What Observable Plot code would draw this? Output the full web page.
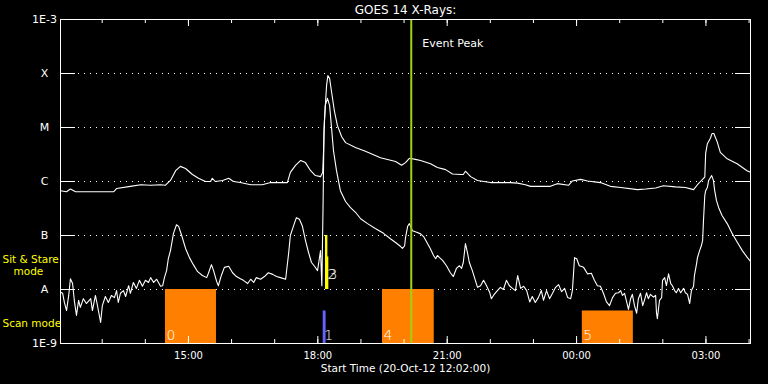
<!DOCTYPE html>
<html><head><meta charset="utf-8">
<script src="https://cdn.jsdelivr.net/npm/d3@7"></script>
<script src="https://cdn.jsdelivr.net/npm/@observablehq/plot@0.6"></script>
<style>html,body{margin:0;padding:0;background:#000;overflow:hidden} svg{display:block}</style>
</head><body><div id="chart"></div>
<script>
// ---- data ----
const startTime = new Date(Date.UTC(2012, 9, 20, 12, 2, 0));
const endTime = new Date(Date.UTC(2012, 9, 21, 4, 2, 0));
const chartTitle = "GOES 14 X-Rays:";
const xLabel = "Start Time (20-Oct-12 12:02:00)";
const eventPeakTime = "2012-10-20T20:10Z";
const eventPeakLabel = "Event Peak";

const yTickValues = [1e-9, 1e-8, 1e-7, 1e-6, 1e-5, 1e-4, 1e-3];
const yTickLabels = ["1E-9", "A", "B", "C", "M", "X", "1E-3"];
const gridLevels = [1e-8, 1e-7, 1e-6, 1e-5, 1e-4];
const majorTickTimes = ["2012-10-20T15:00Z", "2012-10-20T18:00Z", "2012-10-20T21:00Z", "2012-10-21T00:00Z", "2012-10-21T03:00Z"];
const majorTickLabels = ["15:00", "18:00", "21:00", "00:00", "03:00"];

// GOES long channel (1-8 A): hours after start, log10 flux (W/m^2)
const longHours = [0,0.14,0.23,0.35,1.23,1.30,1.62,1.86,2.09,2.32,2.43,2.55,2.67,2.78,2.90,3.06,3.20,3.36,3.48,3.52,3.59,3.76,3.90,4.01,4.17,4.41,4.68,4.87,5.26,5.33,5.45,5.57,5.68,5.80,5.91,6.03,6.08,6.10,6.12,6.17,6.20,6.24,6.28,6.35,6.42,6.52,6.61,6.84,7.07,7.42,7.77,7.91,8.00,8.09,8.23,8.35,8.58,8.74,8.93,9.09,9.28,9.34,9.39,9.51,9.67,9.97,10.43,10.60,10.78,10.90,11.36,11.52,11.78,11.87,12.06,12.22,12.52,12.75,12.99,13.38,13.57,13.80,13.98,14.26,14.49,14.68,14.77,14.84,14.91,14.94,14.96,15.00,15.07,15.11,15.15,15.23,15.30,15.46,15.69,15.92,16.00];
const longLogFlux = [-6.17,-6.19,-6.14,-6.19,-6.19,-6.13,-6.09,-6.06,-6.07,-6.06,-6.07,-5.98,-5.80,-5.72,-5.76,-5.87,-5.94,-6.00,-6.00,-5.94,-6.00,-5.98,-5.94,-6.00,-6.02,-6.06,-6.06,-6.02,-6.02,-5.83,-5.70,-5.61,-5.65,-5.80,-5.89,-5.91,-5.83,-5.43,-4.87,-4.22,-4.04,-4.09,-4.31,-4.69,-4.96,-5.17,-5.28,-5.37,-5.44,-5.56,-5.63,-5.70,-5.65,-5.57,-5.59,-5.61,-5.67,-5.74,-5.78,-5.86,-5.87,-5.87,-5.81,-5.91,-5.98,-6.02,-6.02,-6.03,-6.06,-6.09,-6.09,-6.04,-6.07,-5.99,-5.96,-5.99,-6.02,-6.09,-6.11,-6.15,-6.14,-6.12,-6.08,-6.10,-6.11,-6.15,-6.06,-6.00,-5.94,-5.92,-5.48,-5.30,-5.20,-5.11,-5.11,-5.27,-5.46,-5.58,-5.67,-5.80,-5.83];

// GOES short channel (0.5-4 A)
const shortHours = [0.00,0.05,0.09,0.14,0.19,0.23,0.28,0.32,0.37,0.42,0.46,0.53,0.60,0.70,0.74,0.81,0.86,0.93,0.97,1.04,1.11,1.18,1.25,1.30,1.34,1.39,1.46,1.51,1.58,1.62,1.69,1.76,1.83,1.90,1.97,2.04,2.09,2.16,2.23,2.32,2.37,2.41,2.46,2.50,2.55,2.62,2.69,2.74,2.81,2.90,2.99,3.08,3.18,3.29,3.39,3.43,3.50,3.55,3.62,3.66,3.73,3.80,3.90,3.99,4.08,4.17,4.24,4.34,4.41,4.48,4.54,4.64,4.73,4.82,4.92,5.01,5.10,5.22,5.29,5.33,5.40,5.47,5.54,5.61,5.68,5.75,5.82,5.89,5.96,6.03,6.06,6.09,6.11,6.14,6.19,6.24,6.28,6.33,6.40,6.49,6.61,6.72,6.84,6.96,7.12,7.30,7.49,7.65,7.77,7.88,7.93,7.98,8.00,8.05,8.09,8.16,8.26,8.35,8.42,8.51,8.58,8.65,8.70,8.74,8.79,8.86,8.95,9.04,9.11,9.18,9.25,9.30,9.34,9.39,9.44,9.48,9.55,9.62,9.67,9.74,9.81,9.88,9.95,9.99,10.04,10.11,10.20,10.27,10.34,10.41,10.48,10.55,10.60,10.67,10.74,10.81,10.88,10.94,11.01,11.08,11.15,11.20,11.27,11.34,11.41,11.48,11.55,11.62,11.69,11.76,11.83,11.87,11.92,11.97,12.03,12.13,12.22,12.31,12.38,12.45,12.52,12.59,12.66,12.73,12.80,12.87,12.94,12.99,13.03,13.08,13.12,13.17,13.22,13.26,13.31,13.36,13.40,13.45,13.50,13.54,13.59,13.63,13.68,13.75,13.80,13.82,13.84,13.89,13.94,13.96,14.01,14.05,14.10,14.15,14.19,14.24,14.28,14.33,14.38,14.45,14.49,14.54,14.59,14.63,14.68,14.70,14.75,14.77,14.82,14.86,14.89,14.91,14.94,14.96,15.00,15.03,15.10,15.14,15.17,15.21,15.26,15.34,15.46,15.58,15.69,15.81,15.92,16.00];
const shortLogFlux = [-8.05,-8.07,-8.24,-8.39,-8.11,-7.80,-7.89,-8.20,-8.48,-8.20,-8.33,-8.17,-8.26,-8.17,-8.39,-8.11,-8.31,-8.61,-8.30,-8.13,-8.24,-8.11,-8.15,-8.02,-8.24,-8.07,-8.02,-8.13,-7.93,-8.07,-7.87,-7.98,-7.83,-7.94,-7.83,-7.87,-7.78,-7.87,-7.81,-7.94,-7.93,-7.78,-7.65,-7.43,-7.28,-6.96,-6.80,-6.83,-7.00,-7.24,-7.41,-7.54,-7.67,-7.74,-7.78,-7.70,-7.54,-7.65,-7.85,-7.93,-7.74,-7.59,-7.57,-7.69,-7.76,-7.80,-7.83,-7.89,-7.81,-7.87,-7.78,-7.81,-7.76,-7.69,-7.72,-7.76,-7.78,-7.81,-7.33,-7.00,-6.83,-6.67,-6.70,-6.83,-7.09,-7.31,-7.50,-7.57,-7.65,-7.28,-7.93,-6.35,-5.06,-4.59,-4.46,-4.59,-4.96,-5.43,-5.80,-6.17,-6.37,-6.48,-6.57,-6.69,-6.78,-6.87,-6.96,-7.06,-7.13,-7.20,-7.24,-7.19,-7.04,-6.83,-6.78,-6.91,-6.94,-6.97,-7.02,-7.15,-7.25,-7.37,-7.43,-7.37,-7.41,-7.46,-7.56,-7.69,-7.76,-7.61,-7.56,-7.61,-7.50,-7.15,-7.33,-7.50,-7.65,-7.83,-7.96,-7.93,-7.83,-7.93,-8.05,-8.17,-8.11,-8.04,-7.96,-8.00,-7.83,-7.93,-7.98,-8.02,-7.74,-7.98,-7.94,-8.02,-8.23,-8.13,-8.24,-8.15,-8.02,-8.20,-8.02,-8.17,-8.07,-7.96,-7.91,-8.04,-7.98,-8.15,-8.17,-8.02,-7.41,-7.43,-7.56,-7.59,-7.71,-7.70,-7.83,-7.93,-7.94,-8.07,-8.23,-8.30,-8.15,-8.07,-8.06,-8.02,-8.11,-8.07,-8.20,-8.37,-8.17,-8.09,-8.30,-8.44,-8.17,-8.07,-8.30,-8.20,-8.06,-8.17,-8.09,-8.14,-8.11,-8.43,-8.54,-8.20,-8.15,-7.83,-7.78,-7.93,-7.71,-7.89,-7.93,-8.02,-8.06,-7.98,-8.06,-7.98,-8.06,-8.09,-8.26,-8.02,-7.94,-7.74,-7.52,-7.41,-7.28,-7.19,-7.09,-6.72,-6.26,-6.17,-6.11,-5.98,-5.89,-5.98,-6.17,-6.35,-6.48,-6.63,-6.78,-6.97,-7.12,-7.28,-7.40,-7.48];

// observation intervals
const obsIds = ["0", "1", "2", "3", "4", "5"];
const obsStart = ["2012-10-20T14:28Z", "2012-10-20T18:07:30Z", "2012-10-20T18:10:40Z", "2012-10-20T18:12Z", "2012-10-20T19:30Z", "2012-10-21T00:08Z"];
const obsEnd = ["2012-10-20T15:39Z", "2012-10-20T18:11:30Z", "2012-10-20T18:14Z", "2012-10-20T18:15:20Z", "2012-10-20T20:42Z", "2012-10-21T01:19Z"];
const obsLow = [1e-9, 1e-9, 1e-8, 1e-8, 1e-9, 1e-9];
const obsHigh = [1e-8, 4e-9, 1e-7, 4e-8, 1e-8, 4e-9];
const obsMode = ["scan", "scan", "stare", "stare", "scan", "scan"];
const obsKind = ["raster", "short", "stare", "stare", "raster", "raster"];

// ---- build ----
const toDate = h => new Date(+startTime + h * 3600e3);
const longData = longHours.map((h, i) => ({t: toDate(h), flux: 10 ** longLogFlux[i]}));
const shortData = shortHours.map((h, i) => ({t: toDate(h), flux: 10 ** shortLogFlux[i]}));
const obs = obsIds.map((id, i) => ({id, start: new Date(obsStart[i]), end: new Date(obsEnd[i]), lo: obsLow[i], hi: obsHigh[i], mode: obsMode[i], kind: obsKind[i]}));
const majors = majorTickTimes.map((t, i) => ({t: new Date(t), label: majorTickLabels[i]}));
const minors = d3.utcHours(startTime, endTime);
const yTicks = yTickValues.map((v, i) => ({v, label: yTickLabels[i]}));
const eventPeak = new Date(eventPeakTime);

const frameW = 768 - 60 - 18, frameH = 384 - 19 - 41;
const font = "DejaVu Sans";

const chart = Plot.plot({
  width: 768, height: 384,
  marginTop: 19, marginRight: 18, marginBottom: 41, marginLeft: 60,
  style: {background: "black", color: "white", fontFamily: font, fontSize: "10px", overflow: "visible"},
  x: {type: "utc", domain: [startTime, endTime], axis: null},
  y: {type: "log", domain: [1e-9, 1e-3], axis: null},
  color: {domain: ["raster", "short", "stare"], range: ["#ff8000", "#6464ff", "#ffff00"]},
  marks: [
    Plot.ruleY(gridLevels, {stroke: "white", strokeDasharray: "1,5", strokeWidth: 1}),
    Plot.line(longData, {x: "t", y: "flux", stroke: "white", strokeWidth: 1.1}),
    Plot.line(shortData, {x: "t", y: "flux", stroke: "white", strokeWidth: 1.1}),
    Plot.rect(obs, {x1: "start", x2: "end", y1: "lo", y2: "hi", fill: "kind"}),
    Plot.text(obs.filter(d => d.mode === "scan"), {x: "start", y: "lo", text: "id", fill: "white", fontSize: 14, fontWeight: 300, textAnchor: "start", lineAnchor: "bottom", dx: 1, dy: -4}),
    Plot.text(obs.filter(d => d.mode === "stare"), {x: "start", y: "lo", text: "id", fill: "white", fontSize: 14, fontWeight: 300, textAnchor: "start", lineAnchor: "bottom", dx: 2, dy: -11}),
    Plot.ruleX([eventPeak], {stroke: "#a0d010", strokeWidth: 2}),
    Plot.text([eventPeak], {x: d => d, text: () => eventPeakLabel, frameAnchor: "top", dy: 24, dx: 11, textAnchor: "start", lineAnchor: "middle", fill: "white", fontSize: 11}),
    // y ticks (left and right, inward)
    Plot.tickY(yTicks, {y: "v", stroke: "white", insetRight: frameW - 15}),
    Plot.tickY(yTicks, {y: "v", stroke: "white", insetLeft: frameW - 15}),
    // x ticks (bottom and top, inward)
    Plot.tickX(minors, {x: d => d, stroke: "white", insetTop: frameH - 4}),
    Plot.tickX(minors, {x: d => d, stroke: "white", insetBottom: frameH - 4}),
    Plot.tickX(majors, {x: "t", stroke: "white", insetTop: frameH - 7}),
    Plot.tickX(majors, {x: "t", stroke: "white", insetBottom: frameH - 7}),
    Plot.frame({stroke: "white"}),
    // labels
    Plot.text(yTicks, {y: "v", text: "label", frameAnchor: "left", dx: -16, textAnchor: "middle", lineAnchor: "middle", fill: "white", fontSize: 11}),
    Plot.text(majors, {x: "t", text: "label", frameAnchor: "bottom", dy: 12.5, lineAnchor: "middle", fill: "white", fontSize: 10}),
    Plot.text([xLabel], {text: d => d, frameAnchor: "bottom", dy: 25.5, lineAnchor: "middle", fill: "white", fontSize: 10.5}),
    Plot.text([chartTitle], {text: d => d, frameAnchor: "top", dy: -9.5, lineAnchor: "middle", fill: "white", fontSize: 12}),
    Plot.text(["Sit & Stare"], {text: d => d, frameAnchor: "bottom-left", dx: -58, dy: -84, textAnchor: "start", lineAnchor: "middle", fill: "#ffff00", fontSize: 10.5}),
    Plot.text(["mode"], {text: d => d, frameAnchor: "bottom-left", dx: -47, dy: -72, textAnchor: "start", lineAnchor: "middle", fill: "#ffff00", fontSize: 10.5}),
    Plot.text(["Scan mode"], {text: d => d, frameAnchor: "bottom-left", dx: -58, dy: -19.5, textAnchor: "start", lineAnchor: "middle", fill: "#ffff00", fontSize: 10.5})
  ]
});
document.getElementById("chart").append(chart);
</script>
</body></html>
